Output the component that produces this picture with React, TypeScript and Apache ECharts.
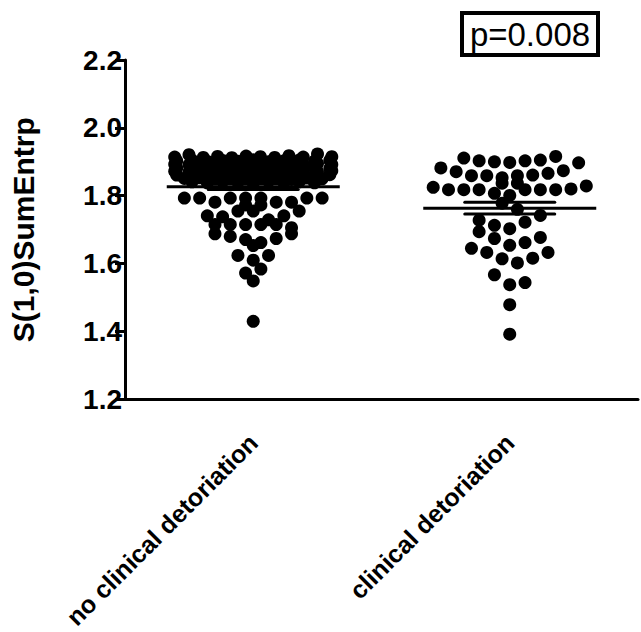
import React, { useEffect, useRef } from "react";
import * as echarts from "echarts";

// ---- data, rows of the dot plot, left to right ----
const categories = ["no clinical detoriation", "clinical detoriation"];

const group1Rows: number[][] = [
  [1.914, 1.921, 1.913, 1.916, 1.912, 1.917, 1.915, 1.913, 1.918, 1.914, 1.923, 1.915],
  [1.903, 1.905, 1.901, 1.904, 1.902, 1.906, 1.900, 1.903, 1.905, 1.902, 1.904],
  [1.893, 1.891, 1.895, 1.892, 1.890, 1.894, 1.896, 1.891, 1.893, 1.890, 1.895, 1.892],
  [1.882, 1.884, 1.880, 1.883, 1.885, 1.881, 1.883, 1.879, 1.884, 1.882, 1.880],
  [1.872, 1.870, 1.874, 1.871, 1.873, 1.869, 1.872, 1.875, 1.870, 1.873, 1.871, 1.874],
  [1.861, 1.863, 1.860, 1.864, 1.862, 1.859, 1.863, 1.861, 1.865, 1.860, 1.862],
  [1.851, 1.853, 1.849, 1.852, 1.850, 1.854, 1.851, 1.848, 1.852, 1.850],
  [1.841, 1.838, 1.842, 1.840, 1.837, 1.843, 1.839, 1.841, 1.838],
  [1.793, 1.793, 1.781, 1.793, 1.793, 1.793, 1.781, 1.781, 1.793, 1.793],
  [1.773, 1.773],
  [1.741, 1.738, 1.755, 1.755, 1.729, 1.741, 1.755],
  [1.715, 1.715, 1.715, 1.715, 1.715, 1.706],
  [1.688, 1.680, 1.671, 1.662, 1.674, 1.688],
  [1.653],
  [1.624, 1.610, 1.624],
  [1.572, 1.584],
  [1.549],
  [1.430],
];

const group2Rows: number[][] = [
  [1.911, 1.903, 1.900, 1.898, 1.903, 1.905, 1.916],
  [1.882, 1.871, 1.859, 1.859, 1.853, 1.859, 1.861, 1.866, 1.874, 1.897],
  [1.837, 1.837],
  [1.825, 1.818, 1.818, 1.818, 1.807, 1.801, 1.818, 1.818, 1.818, 1.820, 1.829],
  [1.778, 1.760],
  [1.728, 1.713, 1.703, 1.722, 1.742],
  [1.694, 1.674, 1.654, 1.662, 1.677],
  [1.645, 1.633, 1.614, 1.602, 1.616, 1.633],
  [1.567, 1.538, 1.544],
  [1.479],
  [1.392],
];

const yTicks = { min: 1.2, max: 2.2, interval: 0.2 };
const pValueText = "p=0.008";

// ---- style constants ----
const FONT = '"Liberation Sans", Arial, Helvetica, sans-serif';
const DOT_SIZE = 13;
const SPACING_PX = 15.4;
const MAX_SPAN_PX = 158;
const MEAN_HALF_PX = 86.5;
const SEM_HALF_PX = 45;
const GRID = { left: 122, right: 3, top: 60, bottom: 228 };

function stats(rows: number[][]) {
  const vals = rows.flat();
  const n = vals.length;
  const mean = vals.reduce((a, b) => a + b, 0) / n;
  const sd = Math.sqrt(vals.reduce((a, b) => a + (b - mean) * (b - mean), 0) / (n - 1));
  return { mean, sem: sd / Math.sqrt(n) };
}

function layout(rows: number[][], groupIdx: number, pxPerUnit: number) {
  const pts: number[][] = [];
  rows.forEach((row) => {
    const k = row.length;
    const sp = k > 1 ? Math.min(SPACING_PX, MAX_SPAN_PX / (k - 1)) : 0;
    row.forEach((v, i) => {
      const offPx = (i - (k - 1) / 2) * sp;
      pts.push([groupIdx + 0.5 + offPx / pxPerUnit, v]);
    });
  });
  return pts;
}

export default function App() {
  const ref = useRef<HTMLDivElement>(null);
  useEffect(() => {
    document.body.style.margin = "0";
    const chart = echarts.init(ref.current!, null, { renderer: "svg" });
    const pxPerUnit = (chart.getWidth() - GRID.left - GRID.right) / 2;
    const s1 = stats(group1Rows);
    const s2 = stats(group2Rows);
    const labelStyle = { color: "#000", fontFamily: FONT, fontWeight: "bold" as const };
    chart.setOption({
      animation: false,
      backgroundColor: "#fff",
      grid: GRID,
      xAxis: [
        {
          type: "category",
          data: categories,
          boundaryGap: true,
          axisLine: { lineStyle: { color: "#000", width: 3 } },
          axisTick: { alignWithLabel: true, length: 9, lineStyle: { color: "#000", width: 3 } },
          axisLabel: { ...labelStyle, fontSize: 25, rotate: 45, margin: 39, interval: 0 },
          splitLine: { show: false },
        },
        { type: "value", min: 0, max: 2, show: false },
      ],
      yAxis: {
        type: "value",
        min: yTicks.min,
        max: yTicks.max,
        interval: yTicks.interval,
        name: "S(1,0)SumEntrp",
        nameLocation: "middle",
        nameRotate: 90,
        nameGap: 87,
        nameTextStyle: { ...labelStyle, fontSize: 30 },
        axisLine: { show: true, lineStyle: { color: "#000", width: 3 } },
        axisTick: { show: true, length: 10, lineStyle: { color: "#000", width: 3 } },
        axisLabel: { ...labelStyle, fontSize: 28, margin: 3, formatter: (v: number) => v.toFixed(1) },
        splitLine: { show: false },
      },
      series: [
        {
          type: "scatter",
          xAxisIndex: 1,
          symbol: "circle",
          symbolSize: DOT_SIZE,
          itemStyle: { color: "#000", opacity: 1 },
          data: [...layout(group1Rows, 0, pxPerUnit), ...layout(group2Rows, 1, pxPerUnit)],
        },
        {
          type: "custom",
          xAxisIndex: 1,
          data: [
            [0.5, s1.mean, s1.sem],
            [1.5, s2.mean, s2.sem],
          ],
          renderItem: (params: any, api: any) => {
            const x = api.value(0), m = api.value(1), se = api.value(2);
            const c = api.coord([x, m]);
            const up = api.coord([x, m + se]);
            const dn = api.coord([x, m - se]);
            const st = { stroke: "#000", lineWidth: 3 };
            return {
              type: "group",
              children: [
                { type: "line", shape: { x1: c[0] - MEAN_HALF_PX, y1: c[1], x2: c[0] + MEAN_HALF_PX, y2: c[1] }, style: st },
                { type: "line", shape: { x1: c[0] - SEM_HALF_PX, y1: up[1], x2: c[0] + SEM_HALF_PX, y2: up[1] }, style: { ...st, lineCap: "round" } },
                { type: "line", shape: { x1: c[0] - SEM_HALF_PX, y1: dn[1], x2: c[0] + SEM_HALF_PX, y2: dn[1] }, style: { ...st, lineCap: "round" } },
              ],
            };
          },
        },
      ],
      graphic: [
        {
          type: "group",
          left: 460,
          top: 11,
          children: [
            { type: "rect", shape: { x: 2, y: 2, width: 136, height: 42 }, style: { fill: "#fff", stroke: "#000", lineWidth: 4 } },
            {
              type: "text",
              x: 70,
              y: 23,
              style: { text: pValueText, fill: "#000", font: `33px ${FONT}`, align: "center", verticalAlign: "middle" },
            },
          ],
        },
      ],
    });
    return () => chart.dispose();
  }, []);
  return <div ref={ref} style={{ width: 641, height: 632 }} />;
}
